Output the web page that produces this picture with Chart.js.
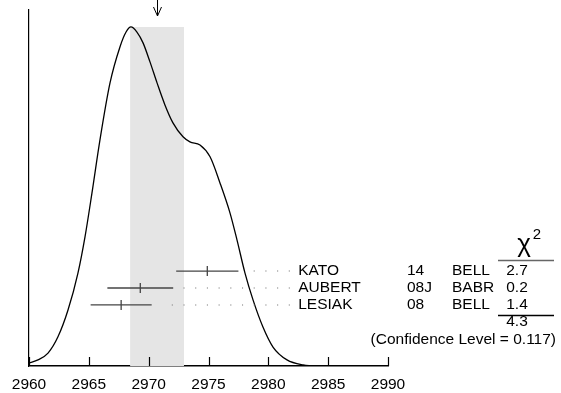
<!DOCTYPE HTML>
<html>
<head>
  <title>Ideogram</title>
  <script src="https://cdn.jsdelivr.net/npm/chart.js"></script>
  <style>
    body { margin: 0; background: #fff; }
    .wrap { width: 561px; height: 393px; }
  </style>
</head>
<body>
  <div class="wrap"><canvas id="chart"></canvas></div>
  <script>
    // ideogram curve (peak normalised to 1)
    const massX = [2960.0, 2960.75, 2961.59, 2962.42, 2963.26, 2964.09, 2964.68, 2965.26, 2965.93, 2966.77,
      2967.6, 2968.11, 2968.52, 2969.02, 2969.53, 2970.11, 2970.7, 2971.36, 2972.03, 2972.87,
      2973.45, 2974.29, 2975.13, 2975.96, 2976.8, 2977.38, 2978.05, 2978.72, 2979.55, 2980.39,
      2981.56, 2982.9, 2984.07, 2985.15];
    const ideogram = [0.009, 0.018, 0.038, 0.086, 0.165, 0.274, 0.381, 0.51, 0.667, 0.835,
      0.941, 0.985, 1.0, 0.985, 0.953, 0.897, 0.835, 0.77, 0.717, 0.676,
      0.661, 0.652, 0.617, 0.54, 0.451, 0.372, 0.274, 0.195, 0.115, 0.056,
      0.018, 0.003, 0.0, 0.0];

    // measurements
    const names = ['KATO', 'AUBERT', 'LESIAK'];
    const years = ['14', '08J', '08'];
    const experiments = ['BELL', 'BABR', 'BELL'];
    const values = [2974.9, 2969.3, 2967.7];
    const errors = [2.6, 2.75, 2.55];
    const chi2 = ['2.7', '0.2', '1.4'];
    const chi2Total = '4.3';
    const confLevel = '0.117';

    // average and its error band
    const average = 2970.7;
    const averageErr = 2.25;

    const xTicks = [2960, 2965, 2970, 2975, 2980, 2985, 2990];

    const rowLevel = i => 0.28 - 0.05 * i;
    const FONT = '"Liberation Sans", Arial, sans-serif';
    const FS = 15.5;

    const datasets = [];
    datasets.push({
      data: [{ x: average - averageErr, y: 1.0 }, { x: average + averageErr, y: 1.0 }],
      fill: 'origin', backgroundColor: '#e5e5e5', borderWidth: 0, pointRadius: 0, order: 10
    });
    datasets.push({
      data: massX.map((x, i) => ({ x: x, y: ideogram[i] })),
      borderColor: '#000', borderWidth: 1.3, pointRadius: 0, fill: false,
      cubicInterpolationMode: 'monotone', order: 1
    });
    values.forEach((v, i) => {
      const lv = rowLevel(i);
      datasets.push({
        data: [{ x: v - errors[i], y: lv }, { x: v + errors[i], y: lv }],
        borderColor: '#444', borderWidth: 1.3, pointRadius: 0, order: 0
      });
      datasets.push({
        data: [{ x: 2981.8, y: lv }, { x: v + errors[i] + 0.8, y: lv }],
        borderColor: '#777', borderWidth: 1.1, borderDash: [1.1, 10.6], pointRadius: 0, order: 0
      });
    });
    datasets.push({
      data: values.map((v, i) => ({ x: v, y: rowLevel(i) })),
      showLine: false, pointStyle: 'line', rotation: 90, pointRadius: 5,
      borderColor: '#444', borderWidth: 1.3, order: 0
    });

    const extras = {
      id: 'extras',
      afterDraw(chart) {
        const ctx = chart.ctx;
        const xs = chart.scales.x, ys = chart.scales.y;
        const area = chart.chartArea;
        ctx.save();
        // upward ticks
        ctx.strokeStyle = '#000';
        ctx.lineWidth = 1.2;
        xTicks.forEach(t => {
          const px = Math.round(xs.getPixelForValue(t)) + 0.5;
          ctx.beginPath();
          ctx.moveTo(px, area.bottom);
          ctx.lineTo(px, area.bottom - 9);
          ctx.stroke();
        });
        // arrow at the average
        const ax = Math.round(xs.getPixelForValue(average)) + 0.5;
        ctx.lineWidth = 1;
        ctx.beginPath();
        ctx.moveTo(ax, 0); ctx.lineTo(ax, 16);
        ctx.moveTo(ax - 4, 7); ctx.lineTo(ax, 16); ctx.lineTo(ax + 4, 7);
        ctx.stroke();
        // table
        ctx.fillStyle = '#000';
        ctx.font = FS + 'px ' + FONT;
        ctx.textBaseline = 'middle';
        const R = area.right;
        names.forEach((n, i) => {
          const py = ys.getPixelForValue(rowLevel(i));
          ctx.textAlign = 'left';
          ctx.fillText(n, xs.getPixelForValue(2982.5), py);
          ctx.fillText(years[i], R + 19, py);
          ctx.fillText(experiments[i], R + 64, py);
          ctx.textAlign = 'center';
          ctx.fillText(chi2[i], R + 129, py);
        });
        const lastY = ys.getPixelForValue(rowLevel(names.length - 1));
        ctx.textAlign = 'center';
        ctx.fillText(chi2Total, R + 129, lastY + 17);
        ctx.textAlign = 'right';
        ctx.fillText('(Confidence Level = ' + confLevel + ')', R + 168, lastY + 35);
        // chi^2 header
        const firstY = ys.getPixelForValue(rowLevel(0));
        ctx.textAlign = 'center';
        ctx.textBaseline = 'alphabetic';
        ctx.font = '26px ' + FONT;
        ctx.fillText('\u03C7', R + 136, firstY - 19);
        ctx.font = '15px ' + FONT;
        ctx.fillText('2', R + 149, firstY - 32);
        // rules
        ctx.lineWidth = 1.5;
        ctx.strokeStyle = '#666';
        ctx.beginPath();
        ctx.moveTo(R + 110, firstY - 10.5); ctx.lineTo(R + 166, firstY - 10.5);
        ctx.stroke();
        ctx.strokeStyle = '#000';
        ctx.beginPath();
        ctx.moveTo(R + 110, lastY + 10.5); ctx.lineTo(R + 166, lastY + 10.5);
        ctx.stroke();
        ctx.restore();
      }
    };

    new Chart(document.getElementById('chart'), {
      type: 'line',
      data: { datasets: datasets },
      options: {
        responsive: true,
        maintainAspectRatio: false,
        animation: false,
        events: [],
        layout: { padding: { left: 29, right: 173, top: 10, bottom: 0 } },
        plugins: { legend: { display: false }, tooltip: { enabled: false } },
        scales: {
          x: {
            type: 'linear', min: 2960, max: 2990,
            afterFit: s => { s.height = 27; },
            afterBuildTicks: s => { s.ticks = xTicks.map(v => ({ value: v })); },
            grid: { display: false, drawTicks: false },
            border: { display: true, color: '#000', width: 1.5 },
            ticks: {
              padding: 9, color: '#000', font: { size: FS, family: FONT }, maxRotation: 0,
              callback: v => String(v)
            }
          },
          y: {
            min: 0, max: 1.05,
            afterFit: s => { s.width = 0; },
            grid: { display: false, drawTicks: false },
            border: { display: true, color: '#000', width: 1.2 },
            ticks: { display: false }
          }
        }
      },
      plugins: [extras]
    });
  </script>
</body>
</html>
